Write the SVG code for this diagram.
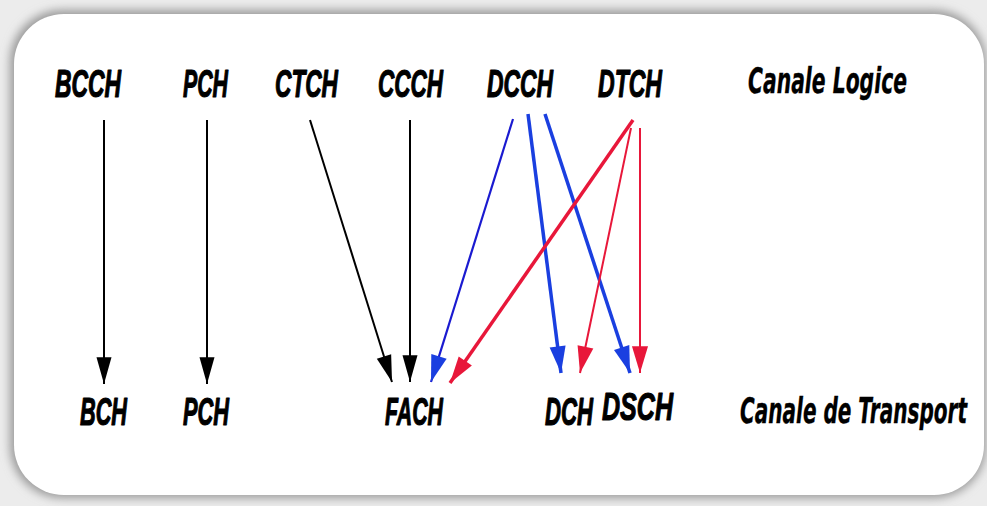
<svg xmlns="http://www.w3.org/2000/svg" width="987" height="506" viewBox="0 0 987 506">
<defs>
<filter id="sh" x="-5%" y="-5%" width="110%" height="110%"><feGaussianBlur stdDeviation="5"/></filter>
<marker id="hk" markerUnits="userSpaceOnUse" markerWidth="30" markerHeight="20" viewBox="-26 -8 28 16" refX="0" refY="0" orient="auto"><path d="M0,0 L-25,-7 L-25,7 Z" fill="#000"/></marker>
<marker id="hb" markerUnits="userSpaceOnUse" markerWidth="30" markerHeight="20" viewBox="-26 -8 28 16" refX="0" refY="0" orient="auto"><path d="M0,0 L-25,-7.5 L-25,7.5 Z" fill="#1a3fe0"/></marker>
<marker id="hr" markerUnits="userSpaceOnUse" markerWidth="30" markerHeight="20" viewBox="-26 -8 28 16" refX="0" refY="0" orient="auto"><path d="M0,0 L-25,-7.5 L-25,7.5 Z" fill="#e8173a"/></marker>
</defs>
<style>
.lb{font-family:"Liberation Sans",Arial,sans-serif;font-weight:bold;font-style:italic;font-size:38px;fill:#000;stroke:#000;stroke-width:1.2;stroke-linejoin:round}
.hd{font-family:"DejaVu Sans",Verdana,sans-serif;font-weight:bold;font-style:italic;font-size:36px;fill:#000;stroke:#000;stroke-width:0.4}
.k{stroke:#000;stroke-width:2;fill:none;marker-end:url(#hk)}
.b{stroke:#1a3fe0;stroke-width:3.5;fill:none;marker-end:url(#hb)}
.b1{stroke:#1a1ad0;stroke-width:2.2;fill:none;marker-end:url(#hb)}
.r{stroke:#e8173a;stroke-width:3.5;fill:none;marker-end:url(#hr)}
.r1{stroke:#e8173a;stroke-width:2;fill:none;marker-end:url(#hr)}
</style>
<rect x="0" y="0" width="987" height="506" fill="#ececec"/>
<rect x="10" y="10" width="976" height="488" rx="52" fill="#9a9a9a" filter="url(#sh)"/>
<rect x="14" y="14" width="970" height="481" rx="50" fill="#ffffff"/>

<g id="headers">
<text class="hd" x="748" y="93" textLength="159" lengthAdjust="spacingAndGlyphs">Canale Logice</text>
<text class="hd" x="740" y="423" textLength="227" lengthAdjust="spacingAndGlyphs">Canale de Transport</text>
</g>

<g id="n-bcch"><text class="lb" x="55" y="97" textLength="66" lengthAdjust="spacingAndGlyphs">BCCH</text></g>
<g id="n-pch-l"><text class="lb" x="183" y="97" textLength="45" lengthAdjust="spacingAndGlyphs">PCH</text></g>
<g id="n-ctch"><text class="lb" x="275" y="97" textLength="63" lengthAdjust="spacingAndGlyphs">CTCH</text></g>
<g id="n-ccch"><text class="lb" x="378" y="97" textLength="65" lengthAdjust="spacingAndGlyphs">CCCH</text></g>
<g id="n-dcch"><text class="lb" x="487" y="97" textLength="66" lengthAdjust="spacingAndGlyphs">DCCH</text></g>
<g id="n-dtch"><text class="lb" x="598" y="97" textLength="64" lengthAdjust="spacingAndGlyphs">DTCH</text></g>

<g id="n-bch"><text class="lb" x="80" y="425" textLength="47" lengthAdjust="spacingAndGlyphs">BCH</text></g>
<g id="n-pch-t"><text class="lb" x="183" y="425" textLength="46" lengthAdjust="spacingAndGlyphs">PCH</text></g>
<g id="n-fach"><text class="lb" x="385" y="425" textLength="58" lengthAdjust="spacingAndGlyphs">FACH</text></g>
<g id="n-dch"><text class="lb" x="545" y="425" textLength="48" lengthAdjust="spacingAndGlyphs">DCH</text></g>
<g id="n-dsch"><text class="lb" x="602" y="420" textLength="71" lengthAdjust="spacingAndGlyphs">DSCH</text></g>

<g id="connectors">
<line class="k" x1="104" y1="120" x2="104" y2="384"/>
<line class="k" x1="207" y1="120" x2="207" y2="384"/>
<line class="k" x1="310" y1="120" x2="392" y2="382"/>
<line class="k" x1="410" y1="120" x2="410" y2="382"/>
<line class="b1" x1="513" y1="119" x2="431" y2="382"/>
<line class="b" x1="528" y1="114" x2="561" y2="373"/>
<line class="b" x1="545" y1="114" x2="630" y2="373"/>
<line class="r" x1="633" y1="120" x2="450" y2="383"/>
<line class="r1" x1="631" y1="128" x2="580" y2="373"/>
<line class="r1" x1="640" y1="128" x2="640" y2="373"/>
</g>
</svg>
